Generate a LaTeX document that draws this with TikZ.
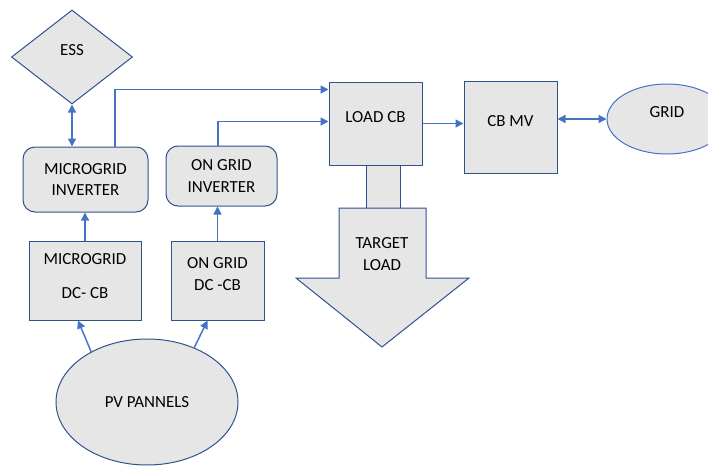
\documentclass[tikz,border=0pt]{standalone}
\usepackage{fontspec}
\setmainfont{Carlito}
\usetikzlibrary{shapes.geometric,arrows.meta,calc}
\definecolor{boxfill}{HTML}{E7E6E6}
\definecolor{boxline}{HTML}{2F528F}
\definecolor{linkblue}{HTML}{4472C4}
\begin{document}
\begin{tikzpicture}[
    x=0.75pt, y=-0.75pt,
    font=\fontsize{12.7}{16.2}\selectfont,
    block/.style={draw=boxline, fill=boxfill, line width=0.75pt, align=center, inner sep=0pt},
    roundblock/.style={block, rounded corners=9pt},
    lift/.style={text depth=#1},
    link/.style={draw=linkblue, line width=1.1pt},
    arr/.style={link, -{Triangle[length=6pt,width=6pt]}},
    darr/.style={link, {Triangle[length=6pt,width=6pt]}-{Triangle[length=6pt,width=6pt]}}
]
    \useasboundingbox (0,0) rectangle (708,471);
    \clip (0,0) rectangle (708,471);

    % Storage and inverters
    \node[block, diamond, minimum width=90.75pt, minimum height=70.5pt, lift=10pt] (ess) at (72,57) {ESS};
    \node[roundblock, minimum width=93.75pt, minimum height=48.75pt] (mi) at (85.5,179.5) {MICROGRID\\INVERTER};
    \node[roundblock, minimum width=83.25pt, minimum height=45pt] (ogi) at (221.5,176) {ON GRID\\INVERTER};

    % DC breakers
    \node[block, minimum width=84pt, minimum height=59.25pt, lift=6.5pt] (mdc) at (85,280.5) {MICROGRID\\[9pt]DC- CB};
    \node[block, minimum width=69.75pt, minimum height=59.25pt, lift=9.5pt] (odc) at (217.5,280.5) {ON GRID\\DC -CB};

    % PV source
    \node[block, ellipse, minimum width=136.5pt, minimum height=94.5pt] (pv) at (147,402) {PV PANNELS};

    % Load side and grid
    \node[block, minimum width=69.75pt, minimum height=62.25pt, lift=9.75pt] (loadcb) at (375.5,123.5) {LOAD CB};
    \node[block, minimum width=69.75pt, minimum height=69pt, lift=9pt] (cbmv) at (510.5,127) {CB MV};
    \node[block, ellipse, draw=linkblue, minimum width=90pt, minimum height=52.5pt, lift=10.5pt] (grid) at (667,119) {GRID};

    % Target load arrow
    \node[block, minimum width=25.5pt, minimum height=32.25pt] (shaft) at (383,186.5) {};
    \draw[block] (339,208) -- (426,208) -- (426,278) -- (469,278) -- (382,347) -- (296,278) -- (339,278) -- cycle;
    \node[align=center] (target) at (382,254) {TARGET\\LOAD};

    % Connectors
    \draw[darr] (ess.south) -- (ess.south |- mi.north);
    \draw[arr] ($(mi.north)+(29.5,0)$) |- ($(loadcb.north west)+(0,8)$);
    \draw[arr] ($(ogi.north)+(-3.5,0)$) |- ($(loadcb.north west)+(0,40)$);
    \draw[arr] (mdc.north) -- (mdc.north |- mi.south);
    \draw[arr] (odc.north) -- (odc.north |- ogi.south);
    \draw[arr] (pv.138) -- ($(mdc.south)+(-7,0)$);
    \draw[arr] (pv.49) -- ($(odc.south)+(-10,0)$);
    \draw[arr] (loadcb.east) -- (loadcb.east -| cbmv.west);
    \draw[darr] (grid.west -| cbmv.east) -- (grid.west);
\end{tikzpicture}
\end{document}
